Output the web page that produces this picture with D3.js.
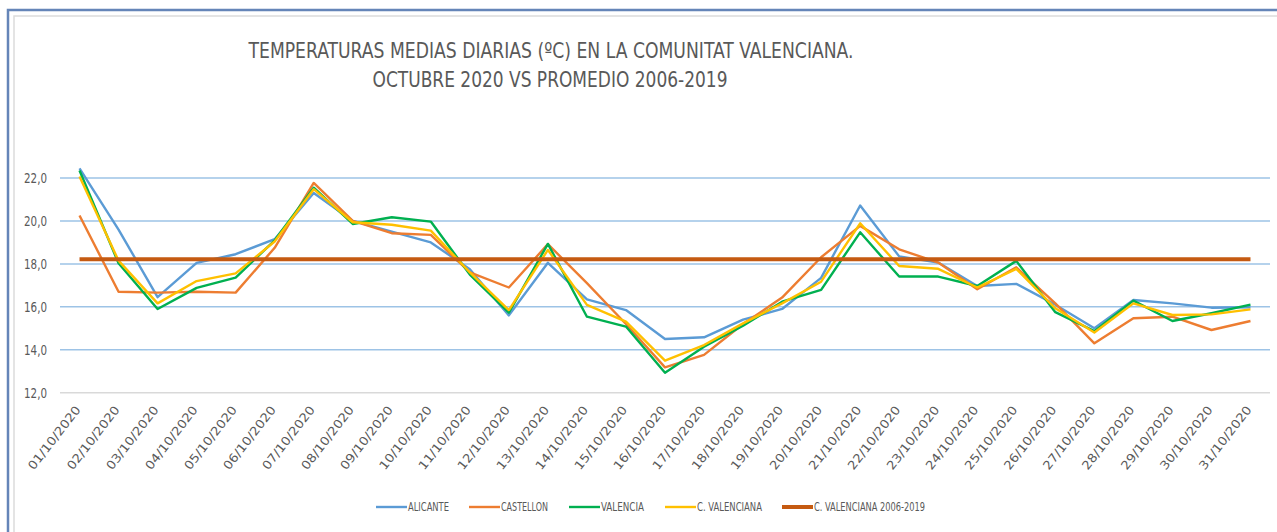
<!DOCTYPE html>
<html>
<head>
<meta charset="utf-8">
<script src="https://cdn.jsdelivr.net/npm/d3@7"></script>
<style>
  body { margin: 0; background: #fff; }
  text { font-family: 'Liberation Sans Narrow', 'DejaVu Sans Condensed', 'Liberation Sans', sans-serif; fill: #595959; }
</style>
</head>
<body>
<svg id="chart"></svg>
<script>
let w = 1277;
let h = 532;

// tick labels (x axis)
let dias = ["01/10/2020", "02/10/2020", "03/10/2020", "04/10/2020", "05/10/2020", "06/10/2020",
    "07/10/2020", "08/10/2020", "09/10/2020", "10/10/2020", "11/10/2020", "12/10/2020",
    "13/10/2020", "14/10/2020", "15/10/2020", "16/10/2020", "17/10/2020", "18/10/2020",
    "19/10/2020", "20/10/2020", "21/10/2020", "22/10/2020", "23/10/2020", "24/10/2020",
    "25/10/2020", "26/10/2020", "27/10/2020", "28/10/2020", "29/10/2020", "30/10/2020", "31/10/2020"];

// y ticks
let yTicks = [12, 14, 16, 18, 20, 22];

// series values (ºC)
let alicante = [22.45, 19.6, 16.45, 18.05, 18.45, 19.15, 21.3, 20.0, 19.5, 19.0, 17.75, 15.6, 18.05, 16.35, 15.85,
    14.5, 14.58, 15.4, 15.9, 17.35, 20.72, 18.35, 18.06, 16.97, 17.07, 16.1, 15.0, 16.32, 16.16, 15.96, 15.98];
let castellon = [20.25, 16.7, 16.66, 16.7, 16.66, 18.75, 21.77, 20.0, 19.43, 19.35, 17.6, 16.9, 18.92, 17.1, 15.2,
    13.18, 13.76, 15.2, 16.43, 18.31, 19.77, 18.68, 18.06, 16.82, 17.84, 16.16, 14.3, 15.47, 15.54, 14.92, 15.34];
let valencia = [22.35, 18.03, 15.9, 16.88, 17.36, 19.1, 21.55, 19.86, 20.17, 19.97, 17.5, 15.73, 18.93, 15.54, 15.08,
    12.93, 14.14, 15.12, 16.24, 16.79, 19.47, 17.41, 17.41, 16.97, 18.14, 15.75, 14.87, 16.29, 15.34, 15.7, 16.1];
let cValenciana = [22.07, 18.15, 16.16, 17.2, 17.56, 19.04, 21.48, 19.94, 19.82, 19.55, 17.6, 15.85, 18.65, 16.09, 15.31,
    13.49, 14.22, 15.23, 16.16, 17.17, 19.89, 17.9, 17.77, 16.9, 17.77, 15.93, 14.8, 16.16, 15.62, 15.65, 15.88];
let promedio = 18.22; // C. VALENCIANA 2006-2019

let series = [
    {name: "ALICANTE", values: alicante, color: "#5B9BD5", width: 2.4},
    {name: "CASTELLON", values: castellon, color: "#ED7D31", width: 2.4},
    {name: "VALENCIA", values: valencia, color: "#00B050", width: 2.4},
    {name: "C. VALENCIANA", values: cValenciana, color: "#FFC000", width: 2.4},
    {name: "C. VALENCIANA 2006-2019", values: dias.map(() => promedio), color: "#C55A11", width: 4}
];

let chart1 = d3.select("#chart")
    .attr("width", w)
    .attr("height", h);

// frame
chart1.append("path")
    .attr("d", `M8,${h} V10 H${w}`)
    .attr("fill", "none")
    .attr("stroke", "#6585B8")
    .attr("stroke-width", 2.5);
chart1.append("path")
    .attr("d", `M14,${h} V16 H${w}`)
    .attr("fill", "none")
    .attr("stroke", "#DCDCDC")
    .attr("stroke-width", 1.5);

// title
let title = chart1.append("g").attr("text-anchor", "middle");
title.append("text")
    .attr("x", 551).attr("y", 58)
    .attr("font-size", 21)
    .attr("fill", "#404040")
    .attr("textLength", 605).attr("lengthAdjust", "spacingAndGlyphs")
    .text("TEMPERATURAS MEDIAS DIARIAS (ºC) EN LA COMUNITAT VALENCIANA.");
title.append("text")
    .attr("x", 550).attr("y", 87)
    .attr("font-size", 21)
    .attr("fill", "#404040")
    .attr("textLength", 355).attr("lengthAdjust", "spacingAndGlyphs")
    .text("OCTUBRE 2020 VS PROMEDIO 2006-2019");

// scales
let xScale = d3.scaleBand()
    .domain(dias)
    .range([60, 1270]);
let yScale = d3.scaleLinear()
    .domain([12, 22])
    .range([392.7, 178]);
let cx = d => xScale(d) + xScale.bandwidth() / 2;

// gridlines
chart1.append("g")
    .selectAll("line")
    .data(yTicks)
    .join("line")
    .attr("x1", 60).attr("x2", 1270)
    .attr("y1", d => yScale(d)).attr("y2", d => yScale(d))
    .attr("stroke", d => d === 12 ? "#D9D9D9" : "#9DC3E6")
    .attr("stroke-width", 1.5);

// y axis labels
let yAxis = d3.axisLeft(yScale)
    .tickValues(yTicks)
    .tickSize(0)
    .tickPadding(0)
    .tickFormat(d => d3.format(".1f")(d).replace(".", ","));
let yAxisGroup = chart1.append("g")
    .attr("transform", "translate(47,0)")
    .call(yAxis);
yAxisGroup.select(".domain").remove();
yAxisGroup.selectAll("text")
    .attr("font-size", 14)
    .attr("fill", "#595959")
    .attr("textLength", 23).attr("lengthAdjust", "spacingAndGlyphs");

// x axis labels
let xAxis = d3.axisBottom(xScale).tickSize(0).tickPadding(0);
let xAxisGroup = chart1.append("g")
    .attr("transform", "translate(0,392.7)")
    .call(xAxis);
xAxisGroup.select(".domain").remove();
xAxisGroup.selectAll(".tick text")
    .attr("font-size", 12)
    .attr("fill", "#595959")
    .attr("text-anchor", "end")
    .attr("dy", "0.71em")
    .attr("y", 0)
    .attr("transform", "translate(-5,12) rotate(-52)")
    .attr("textLength", 77).attr("lengthAdjust", "spacingAndGlyphs");

// lines
let line = d3.line()
    .x((d, i) => cx(dias[i]))
    .y(d => yScale(d));

chart1.append("g")
    .selectAll("path")
    .data(series)
    .join("path")
    .attr("fill", "none")
    .attr("stroke", d => d.color)
    .attr("stroke-width", d => d.width)
    .attr("stroke-linejoin", "round")
    .attr("d", d => line(d.values));

// legend
let legendPos = [376, 469, 569, 665, 782];
let legendLen = [41, 47, 43, 65, 111];
let legend = chart1.append("g")
    .selectAll("g")
    .data(series)
    .join("g")
    .attr("transform", (d, i) => `translate(${legendPos[i]},507)`);

legend.append("line")
    .attr("x1", 0).attr("x2", 31)
    .attr("stroke", d => d.color)
    .attr("stroke-width", d => d.width);

legend.append("text")
    .attr("x", 32)
    .attr("dy", "0.36em")
    .attr("font-size", 12)
    .attr("fill", "#595959")
    .attr("textLength", (d, i) => legendLen[i]).attr("lengthAdjust", "spacingAndGlyphs")
    .text(d => d.name);
</script>
</body>
</html>
